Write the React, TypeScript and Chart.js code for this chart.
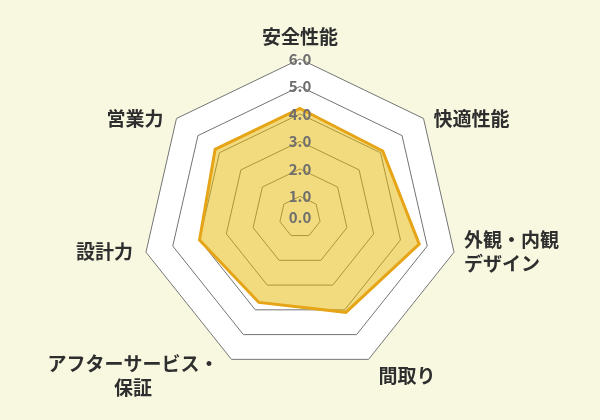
import Chart, { ChartConfiguration } from "chart.js/auto";
import React, { useRef } from "react";

const categories = [
  ["安全性能"],
  ["快適性能"],
  ["外観・内観", "デザイン"],
  ["間取り"],
  ["アフターサービス・", "保証"],
  ["設計力"],
  ["営業力"],
];
const scores = [4.2, 4.1, 4.7, 4.1, 3.7, 4.0, 4.2];
const tickValues = [0, 1, 2, 3, 4, 5, 6];
const tickLabels = ["0.0", "1.0", "2.0", "3.0", "4.0", "5.0", "6.0"];
const scaleMin = 0.25;
const scaleMax = 6;

const FONT = "'Noto Sans CJK JP', 'Noto Sans', sans-serif";

// axis names placed next to each outer vertex
const axisLabels = {
  id: "axisLabels",
  afterDraw(chart: any) {
    const scale = chart.scales.r;
    const ctx = chart.ctx;
    const lh = 24;
    ctx.save();
    ctx.font = "bold 19px " + FONT;
    ctx.fillStyle = "#2e2e2e";
    ctx.textBaseline = "middle";
    ctx.textAlign = "left";
    categories.forEach((lines, i) => {
      const p = scale.getPointPosition(i, scale.drawingArea);
      const dx = p.x - scale.xCenter;
      const dy = p.y - scale.yCenter;
      const side = dx > 5 ? 1 : dx < -5 ? -1 : 0;
      const widths = lines.map((l) => ctx.measureText(l).width);
      const bw = Math.max(...widths);
      const left = side === 1 ? p.x + 10 : side === -1 ? p.x - 13 - bw : p.x - bw / 2;
      let cy = p.y;
      if (dy < -scale.drawingArea * 0.9) cy = p.y - 22;
      else if (dy > scale.drawingArea * 0.8) cy = p.y + 16;
      const top = cy - ((lines.length - 1) * lh) / 2;
      lines.forEach((l, k) => {
        const x = side === 1 ? left : left + (bw - widths[k]) / 2;
        ctx.fillText(l, x, top + k * lh);
      });
    });
    ctx.restore();
  },
};

const Radar = () => {
  const canvasEl = useRef<HTMLCanvasElement>(null);
  React.useEffect(() => {
    const ctx = canvasEl.current!.getContext("2d")!;

    const config = {
      type: "radar",
      data: {
        labels: categories,
        datasets: [
          {
            data: scores,
            fill: "start",
            backgroundColor: "rgba(229,183,0,0.5)",
            borderColor: "#e6a417",
            borderWidth: 3,
            pointRadius: 0,
            pointHoverRadius: 0,
          },
        ],
      },
      options: {
        responsive: false,
        animation: false,
        layout: { padding: { top: 49, bottom: 35, left: 0, right: 0 } },
        plugins: { legend: { display: false }, tooltip: { enabled: false } },
        scales: {
          r: {
            min: scaleMin,
            max: scaleMax,
            backgroundColor: "#ffffff",
            angleLines: { display: false },
            grid: {
              color: (c: any) => (c.index <= 1 ? "rgba(0,0,0,0)" : "#747474"),
              lineWidth: 1,
            },
            pointLabels: { display: false },
            afterBuildTicks: (scale: any) => {
              scale.ticks = [
                { value: scaleMin },
                ...tickValues.map((v) => ({ value: Math.max(v, scaleMin) })),
              ];
            },
            ticks: {
              z: 1,
              showLabelBackdrop: false,
              color: "#6e6e6e",
              font: { family: FONT, size: 15, weight: "bold" },
              callback: (_v: any, i: number) => (i === 0 ? "" : tickLabels[i - 1]),
            },
          },
        },
      },
      plugins: [axisLabels],
    } as unknown as ChartConfiguration;
    const chart = new Chart(ctx, config);

    return () => {
      chart.destroy();
    };
  }, []);
  return <canvas ref={canvasEl} width={600} height={420}></canvas>;
};

export default function App() {
  return (
    <div
      style={{
        position: "fixed",
        left: 0,
        top: 0,
        width: 600,
        height: 420,
        background: "#f8f8e1",
      }}
    >
      <Radar />
    </div>
  );
}
